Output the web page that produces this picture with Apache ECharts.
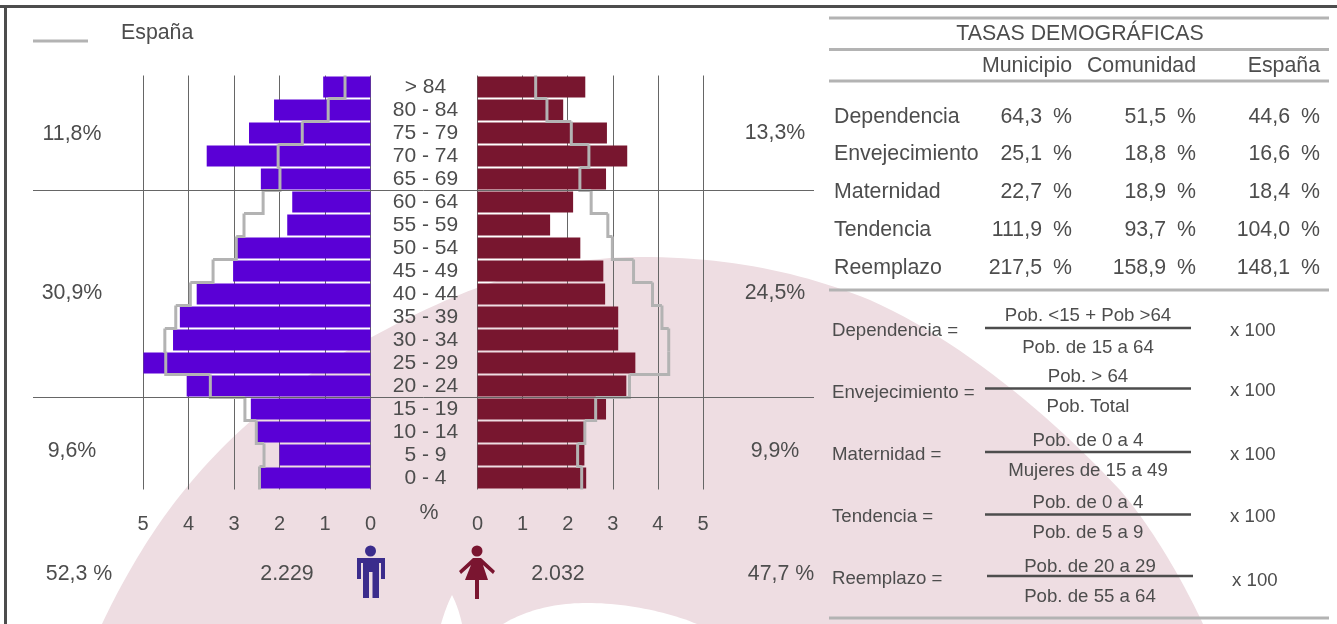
<!DOCTYPE html>
<html>
<head>
<meta charset="utf-8">
<title>Pirámide de población</title>
<script src="https://cdn.jsdelivr.net/npm/echarts@6/dist/echarts.min.js"></script>
<style>
  html, body { margin: 0; padding: 0; background: #fff; }
  #chart { width: 1337px; height: 624px; }
</style>
</head>
<body>
<div id="chart"></div>
<script>
// datos
var edades = ['> 84', '80 - 84', '75 - 79', '70 - 74', '65 - 69', '60 - 64', '55 - 59', '50 - 54', '45 - 49',
  '40 - 44', '35 - 39', '30 - 34', '25 - 29', '20 - 24', '15 - 19', '10 - 14', '5 - 9', '0 - 4'];
var hombres = [1.04, 2.12, 2.67, 3.6, 2.41, 1.72, 1.83, 2.97, 3.02, 3.82, 4.19, 4.34, 4.99, 4.04, 2.63, 2.5, 2.0, 2.43];
var mujeres = [2.39, 1.9, 2.87, 3.32, 2.85, 2.12, 1.61, 2.28, 2.79, 2.83, 3.12, 3.12, 3.5, 3.3, 2.85, 2.37, 2.37, 2.41];
var espanaH = [0.56, 0.93, 1.5, 2.03, 1.99, 2.36, 2.78, 2.95, 3.46, 3.96, 4.28, 4.52, 4.5, 3.52, 2.76, 2.51, 2.34, 2.44];
var espanaM = [1.29, 1.54, 2.08, 2.47, 2.27, 2.52, 2.89, 2.99, 3.46, 3.88, 4.09, 4.24, 4.24, 3.37, 2.62, 2.38, 2.22, 2.31];

var tasas = ['Dependencia', 'Envejecimiento', 'Maternidad', 'Tendencia', 'Reemplazo'];
var tasaMunicipio = ['64,3', '25,1', '22,7', '111,9', '217,5'];
var tasaComunidad = ['51,5', '18,8', '18,9', '93,7', '158,9'];
var tasaEspana = ['44,6', '16,6', '18,4', '104,0', '148,1'];
var numeradores = ['Pob. <15 + Pob >64', 'Pob. > 64', 'Pob. de 0 a 4', 'Pob. de 0 a 4', 'Pob. de 20 a 29'];
var denominadores = ['Pob. de 15 a 64', 'Pob. Total', 'Mujeres de 15 a 49', 'Pob. de 5 a 9', 'Pob. de 55 a 64'];

var GRIS = '#4d4d4d', REGLA = '#b3b3b3', FUENTE = '"Liberation Sans", Arial, sans-serif';
var GRANDE = 21.33, MEDIA = 18.67;

var chart = echarts.init(document.getElementById('chart'));

function txt(x, y, s, size, align) {
  return {
    type: 'text', x: x, y: y + 1, z: 5,
    style: { text: s, fill: GRIS, fontSize: size, fontFamily: FUENTE, align: align || 'left', verticalAlign: 'middle' }
  };
}
function linea(x1, y1, x2, y2, color, w) {
  return { type: 'line', z: 5, shape: { x1: x1, y1: y1, x2: x2, y2: y2 }, style: { stroke: color, lineWidth: w } };
}
function poligono(puntos, color, z) {
  return { type: 'polygon', z: z, shape: { points: puntos }, style: { fill: color } };
}
// muestrea tramos de bezier para las formas del fondo
function curva(x, y, tramos) {
  var pts = [[x, y]];
  tramos.forEach(function (c) {
    var x0 = pts[pts.length - 1][0], y0 = pts[pts.length - 1][1];
    for (var k = 1; k <= 24; k++) {
      var t = k / 24, u = 1 - t;
      pts.push([
        u * u * u * x0 + 3 * u * u * t * c[0] + 3 * u * t * t * c[2] + t * t * t * c[4],
        u * u * u * y0 + 3 * u * u * t * c[1] + 3 * u * t * t * c[3] + t * t * t * c[5]
      ]);
    }
  });
  return pts;
}

// linea escalonada de España, un tramo por cada grupo de edad
function escalon(serie) {
  return function (params, api) {
    var i = api.value(0);
    var y0 = api.coord([0, i]);
    var alto = api.size([0, 1])[1];
    var x = api.coord([serie[i], i])[0];
    var pts = [[x, y0[1] - alto / 2], [x, y0[1] + alto / 2]];
    if (i < serie.length - 1) pts.push([api.coord([serie[i + 1], i])[0], y0[1] + alto / 2]);
    return { type: 'polyline', shape: { points: pts }, style: { fill: 'none', stroke: REGLA, lineWidth: 3 } };
  };
}

var graficos = [
  // fondo
  poligono(curva(102, 624, [[125, 575, 155, 525, 187, 487], [225, 440, 290, 380, 370, 338], [440, 300, 530, 257, 640, 257],
    [730, 257, 800, 272, 870, 300], [960, 340, 1050, 415, 1120, 490], [1150, 525, 1180, 575, 1203, 624]]), '#eedde2', -1),
  poligono(curva(441, 624, [[445, 610, 449, 601, 452, 595], [455, 601, 459, 610, 462, 624]]), '#fff', -1),
  poligono(curva(503, 624, [[525, 611, 552, 603, 587, 603], [625, 603, 665, 611, 697, 624]]), '#fff', -1),
  // marco
  linea(0, 6.5, 1337, 6.5, GRIS, 3),
  linea(5.5, 5, 5.5, 624, GRIS, 3),
  // leyenda
  linea(33, 41, 88, 41, REGLA, 3),
  txt(121, 32, 'España', GRANDE),
  // porcentajes
  txt(72, 133, '11,8%', GRANDE, 'center'),
  txt(72, 292, '30,9%', GRANDE, 'center'),
  txt(72, 450, '9,6%', GRANDE, 'center'),
  txt(775, 132, '13,3%', GRANDE, 'center'),
  txt(775, 292, '24,5%', GRANDE, 'center'),
  txt(775, 450, '9,9%', GRANDE, 'center'),
  txt(429, 512, '%', GRANDE, 'center'),
  txt(79, 573, '52,3 %', GRANDE, 'center'),
  txt(287, 573, '2.229', GRANDE, 'center'),
  txt(558, 573, '2.032', GRANDE, 'center'),
  txt(781, 573, '47,7 %', GRANDE, 'center'),
  // hombre
  { type: 'circle', z: 5, shape: { cx: 370.5, cy: 551, r: 5.5 }, style: { fill: '#3b2c8c' } },
  poligono([[357, 558], [385, 558], [385, 579], [381, 579], [381, 563], [379, 563], [379, 598], [372.5, 598], [372.5, 572],
    [369, 572], [369, 598], [363, 598], [363, 563], [361, 563], [361, 579], [357, 579]], '#3b2c8c', 5),
  // mujer
  { type: 'circle', z: 5, shape: { cx: 477, cy: 551, r: 5.5 }, style: { fill: '#7a1530' } },
  poligono([[473, 558], [481, 558], [495, 571], [493, 574], [483, 565], [488, 580], [479, 580], [479, 599], [475, 599],
    [475, 580], [465, 580], [471, 565], [461, 574], [459, 571]], '#7a1530', 5),
  // tabla
  linea(829, 18, 1329, 18, REGLA, 3),
  linea(829, 49.5, 1329, 49.5, REGLA, 3),
  linea(829, 81, 1329, 81, REGLA, 3),
  linea(829, 290, 1329, 290, REGLA, 3),
  linea(829, 618, 1329, 618, REGLA, 3),
  txt(1080, 33, 'TASAS DEMOGRÁFICAS', GRANDE, 'center'),
  txt(1072, 65, 'Municipio', GRANDE, 'right'),
  txt(1196, 65, 'Comunidad', GRANDE, 'right'),
  txt(1320, 65, 'España', GRANDE, 'right')
];

var filaY = [116, 153, 191, 229, 267];
var lineaY = [328, 388.5, 452, 514.5, 576];
var numY = [315, 376, 440, 502, 566];
var denY = [347, 406, 470, 532, 596];
var etiY = [330, 392, 454, 516, 578];
var porY = [330, 390, 454, 516, 580];
tasas.forEach(function (t, i) {
  graficos.push(txt(834, filaY[i], t, GRANDE));
  [[tasaMunicipio, 1042, 1072], [tasaComunidad, 1166, 1196], [tasaEspana, 1290, 1320]].forEach(function (c) {
    graficos.push(txt(c[1], filaY[i], c[0][i], GRANDE, 'right'));
    graficos.push(txt(c[2], filaY[i], '%', GRANDE, 'right'));
  });
  var dx = i === 4 ? 2 : 0;
  graficos.push(txt(832, etiY[i], t + ' =', MEDIA));
  graficos.push(linea(985 + dx, lineaY[i], 1191 + dx, lineaY[i], GRIS, 2.5));
  graficos.push(txt(1088 + dx, numY[i], numeradores[i], MEDIA, 'center'));
  graficos.push(txt(1088 + dx, denY[i], denominadores[i], MEDIA, 'center'));
  graficos.push(txt(1230 + dx, porY[i], 'x 100', MEDIA));
});

function ejeX(idx, invertido) {
  return {
    type: 'value', gridIndex: idx, inverse: invertido, min: 0, max: 5, interval: 1,
    axisLine: { show: false },
    axisTick: { show: false },
    axisLabel: { color: GRIS, fontSize: 20, fontFamily: FUENTE, margin: 25 },
    splitLine: { show: true, lineStyle: { color: '#666', width: 1 } }
  };
}

chart.setOption({
  animation: false,
  backgroundColor: '#fff',
  grid: [
    { left: 143, width: 227.5, top: 75.5, height: 414 },
    { left: 477.5, width: 225.5, top: 75.5, height: 414 }
  ],
  xAxis: [ejeX(0, true), ejeX(1, false)],
  yAxis: [
    {
      type: 'category', gridIndex: 0, position: 'right', inverse: true, data: edades,
      axisLine: { show: false }, axisTick: { show: false },
      axisLabel: { color: GRIS, fontSize: 21, fontFamily: FUENTE, align: 'center', margin: 55, interval: 0 }
    },
    {
      type: 'category', gridIndex: 1, inverse: true, data: edades,
      axisLine: { show: false }, axisTick: { show: false }, axisLabel: { show: false }
    }
  ],
  series: [
    { type: 'bar', name: 'Hombres', xAxisIndex: 0, yAxisIndex: 0, data: hombres, barWidth: 21, itemStyle: { color: '#5a00d6' } },
    { type: 'bar', name: 'Mujeres', xAxisIndex: 1, yAxisIndex: 1, data: mujeres, barWidth: 21, itemStyle: { color: '#78162f' } },
    { type: 'custom', name: 'España', xAxisIndex: 0, yAxisIndex: 0, z: 4, data: edades.map(function (e, i) { return [i]; }), encode: { y: 0 }, renderItem: escalon(espanaH) },
    { type: 'custom', name: 'España', xAxisIndex: 1, yAxisIndex: 1, z: 4, data: edades.map(function (e, i) { return [i]; }), encode: { y: 0 }, renderItem: escalon(espanaM) }
  ],
  graphic: graficos.concat([
    linea(33, 190.5, 814, 190.5, '#666', 1),
    linea(33, 397.5, 814, 397.5, '#666', 1)
  ])
});
</script>
</body>
</html>
